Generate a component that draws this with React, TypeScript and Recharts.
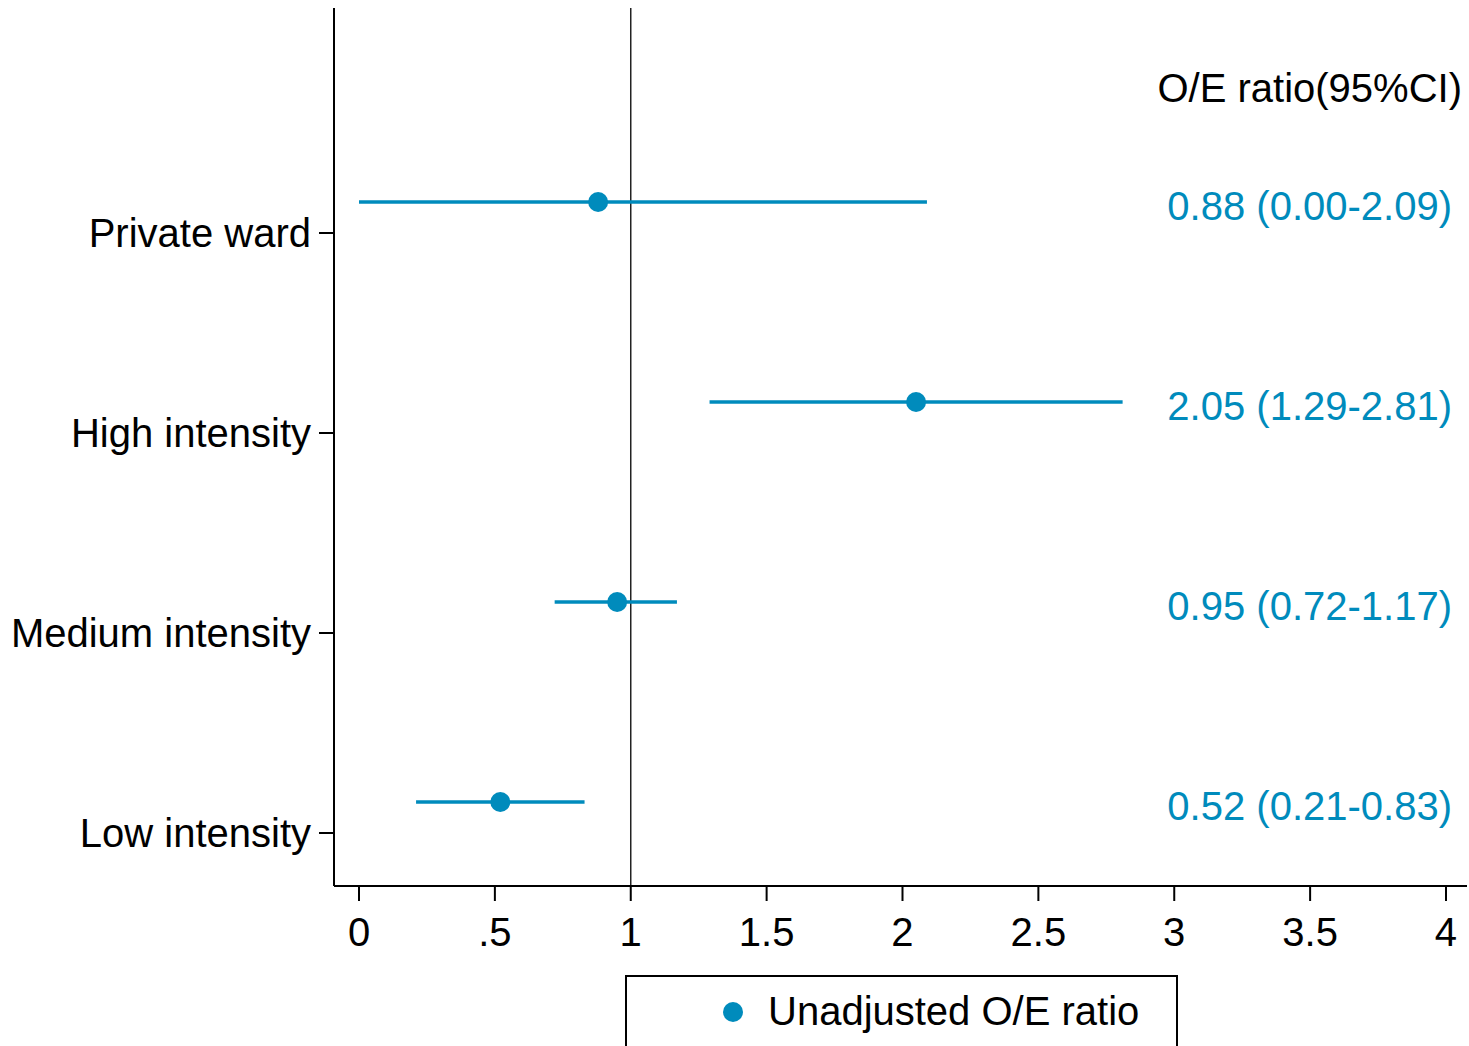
import React from "react";
import {
  ComposedChart,
  Scatter,
  ErrorBar,
  XAxis,
  YAxis,
  ReferenceLine,
  LabelList,
  Legend,
} from "recharts";

// rows from top to bottom of the plot
const ROWS = ["Private ward", "High intensity", "Medium intensity", "Low intensity"];
const RATIO = [0.88, 2.05, 0.95, 0.52];
const LOWER = [0.0, 1.29, 0.72, 0.21];
const UPPER = [2.09, 2.81, 1.17, 0.83];
const X_TICKS = [0, 0.5, 1, 1.5, 2, 2.5, 3, 3.5, 4];

const BLUE = "#008bbc";
const FONT = "'Liberation Sans', Arial, sans-serif";
// markers sit a bit above their category tick, as in the Stata original
const ROW_SHIFT = 0.155;

const yPos = (i: number) => ROWS.length - i;

const data = ROWS.map((name, i) => ({
  name,
  y: yPos(i) + ROW_SHIFT,
  ratio: RATIO[i],
  err: [RATIO[i] - LOWER[i], UPPER[i] - RATIO[i]],
  label: `${RATIO[i].toFixed(2)} (${LOWER[i].toFixed(2)}-${UPPER[i].toFixed(2)})`,
}));

const fmtX = (v: number) => (v === 0 ? "0" : v < 1 ? String(v).replace(/^0/, "") : String(v));
const fmtY = (v: number) => ROWS[ROWS.length - v] ?? "";

function ValueLabel(props: any) {
  const { y, height, value } = props;
  const cy = y + height / 2;
  return (
    <text x={1452} y={cy + 18} textAnchor="end" fill={BLUE} fontSize={40} fontFamily={FONT}>
      {value}
    </text>
  );
}

function LegendBox() {
  return (
    <div
      style={{
        boxSizing: "border-box",
        width: 553,
        height: 71,
        border: "2px solid #000",
        borderBottom: "none",
        display: "flex",
        alignItems: "center",
        paddingLeft: 96,
        fontFamily: FONT,
        fontSize: 40,
        color: "#000",
      }}
    >
      <span
        style={{
          display: "inline-block",
          width: 20,
          height: 20,
          borderRadius: 10,
          background: BLUE,
          marginRight: 25,
        }}
      />
      Unadjusted O/E ratio
    </div>
  );
}

export default function App() {
  return (
    <div
      style={{
        position: "absolute",
        left: 0,
        top: 0,
        width: 1469,
        height: 1046,
        overflow: "hidden",
        background: "#fff",
      }}
    >
      <ComposedChart width={1469} height={1046} data={data} margin={{ top: 8, right: 2, bottom: 0, left: 0 }}>
        <XAxis
          type="number"
          dataKey="ratio"
          domain={[-0.092, 4.0773]}
          allowDataOverflow
          ticks={X_TICKS}
          tickFormatter={fmtX}
          height={89}
          tickSize={15}
          tickMargin={17}
          stroke="#000"
          strokeWidth={2}
          tick={{ fill: "#000", fontSize: 40, fontFamily: FONT }}
        />
        <YAxis
          type="number"
          dataKey="y"
          domain={[0.735, 5.125]}
          allowDataOverflow
          ticks={[1, 2, 3, 4]}
          tickFormatter={fmtY}
          width={334}
          tickSize={15}
          tickMargin={8}
          stroke="#000"
          strokeWidth={2}
          tick={{ fill: "#000", fontSize: 40, fontFamily: FONT }}
        />
        <ReferenceLine x={1} stroke="#222" strokeWidth={1.5} />
        <Scatter
          name="Unadjusted O/E ratio"
          dataKey="y"
          fill={BLUE}
          isAnimationActive={false}
          shape={(p: any) => <circle cx={p.cx} cy={p.cy} r={10} fill={BLUE} />}
        >
          <ErrorBar dataKey="err" direction="x" width={0} stroke={BLUE} strokeWidth={3.5} />
          <LabelList dataKey="label" content={<ValueLabel />} />
        </Scatter>
        <text x={1462} y={102} textAnchor="end" fill="#000" fontSize={40} fontFamily={FONT}>
          O/E ratio(95%CI)
        </text>
        <Legend
          verticalAlign="bottom"
          content={<LegendBox />}
          wrapperStyle={{ left: 625, width: 553 }}
        />
      </ComposedChart>
    </div>
  );
}
